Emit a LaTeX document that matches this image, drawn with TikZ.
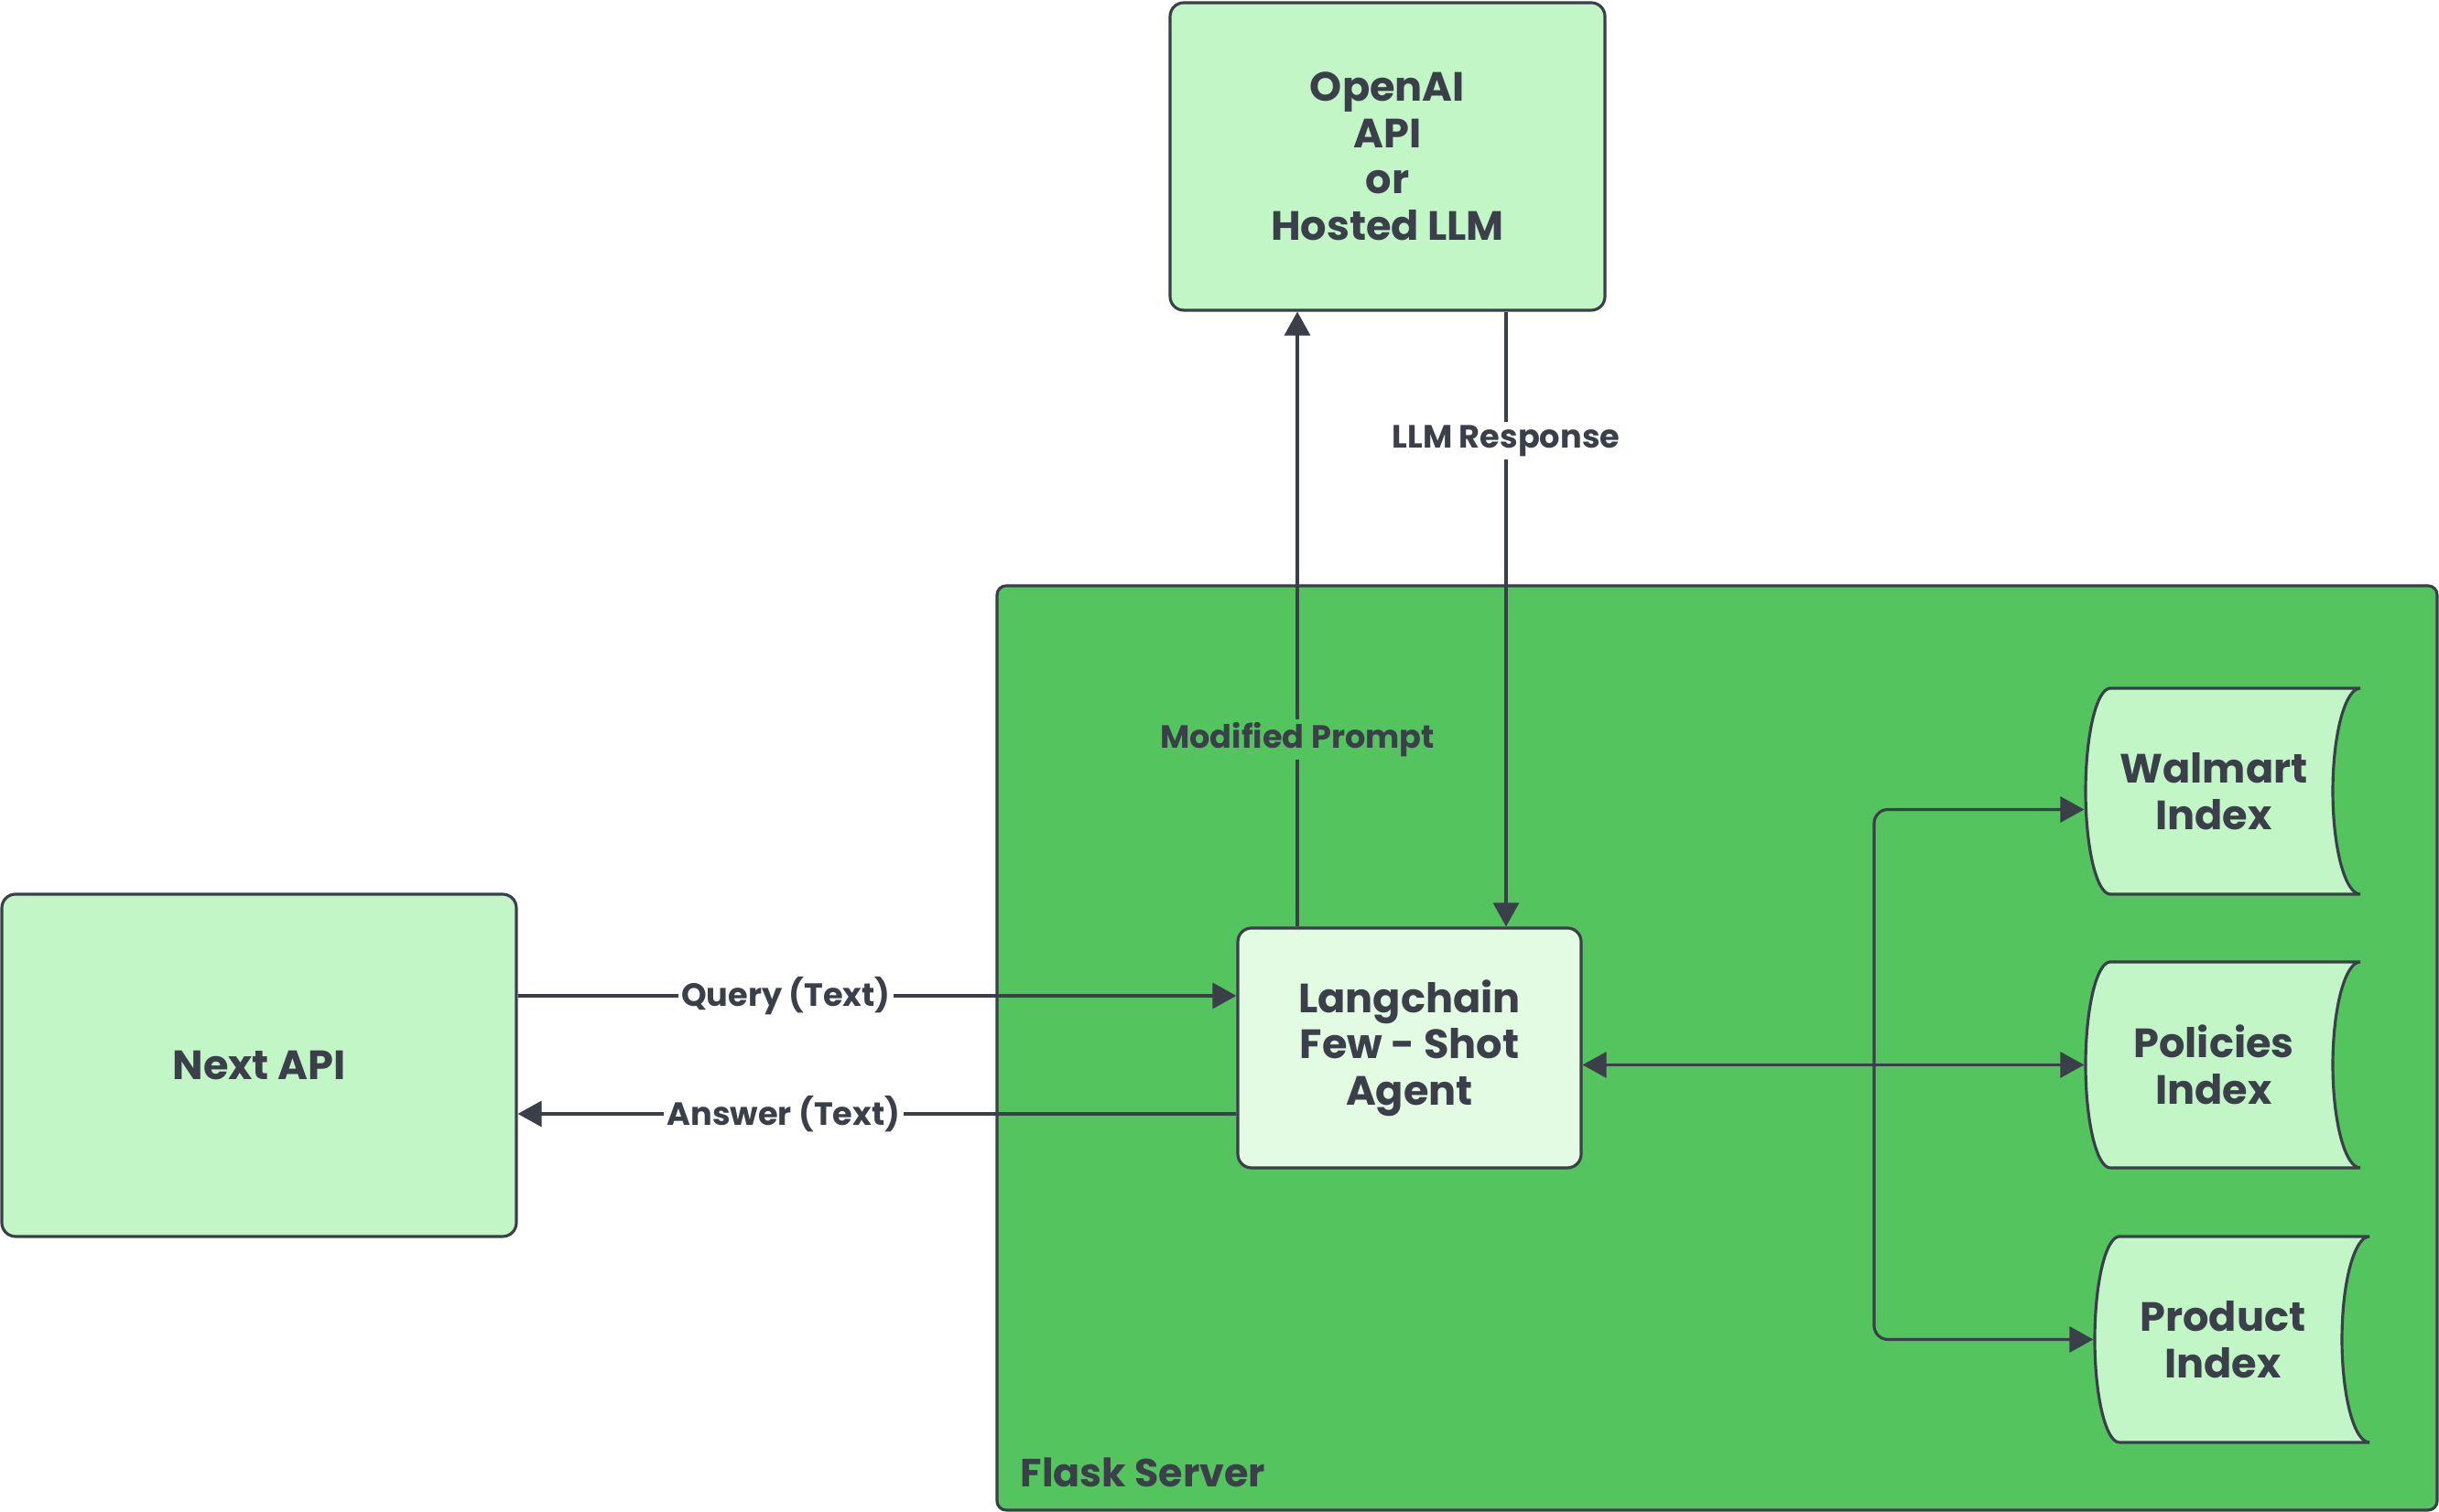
\documentclass[tikz,border=0pt]{standalone}
\usepackage{fontspec}
\setmainfont{Poppins}
\usetikzlibrary{arrows.meta}

\definecolor{linegray}{HTML}{3A3F4A}
\definecolor{softgreen}{HTML}{C2F6C7}
\definecolor{flaskgreen}{HTML}{54C45E}
\definecolor{agentgreen}{HTML}{E3FAE3}

\tikzset{
  box/.style={draw, rounded corners=1.5mm, align=center, font=\fontsize{12.7}{14.4}\selectfont\bfseries},
  dbshape/.style={draw, fill=softgreen},
  tag/.style={fill=white, inner sep=1pt, font=\fontsize{10}{12}\selectfont\bfseries},
}

\begin{document}
\begin{tikzpicture}[color=linegray, line width=0.9pt, >={Triangle[length=2.6mm, width=2.8mm]}]
\useasboundingbox (0,0) rectangle (26.64,16.52);
% server area
\node[box, fill=flaskgreen, rounded corners=1mm, minimum width=15.73cm, minimum height=10.1cm] (flask) at (18.755,5.07) {};
\node[font=\fontsize{12.2}{14.2}\selectfont\bfseries, anchor=base west, inner sep=0pt] (flasklabel) at (11.13,0.27) {Flask Server};

\node[box, fill=softgreen, minimum width=4.75cm, minimum height=3.36cm] (llm) at (15.155,14.81) {OpenAI\\API\\or\\Hosted LLM};
\node[box, fill=softgreen, minimum width=5.62cm, minimum height=3.74cm] (next) at (2.83,4.88) {Next API};
\node[box, fill=agentgreen, minimum width=3.75cm, minimum height=2.62cm] (agent) at (15.395,5.07) {Langchain\\Few - Shot\\Agent};

% index stores
\foreach \cx/\cy in {24.28/7.875, 24.28/4.885, 24.38/1.885}
  \draw[dbshape] (\cx-1.23,\cy+1.125) -- (\cx+1.5,\cy+1.125)
    arc[start angle=90, end angle=270, x radius=0.3, y radius=1.125]
    -- (\cx-1.23,\cy-1.125)
    arc[start angle=270, end angle=90, x radius=0.27, y radius=1.125] -- cycle;
\node[box, draw=none, minimum width=2.8cm, minimum height=2.25cm] (walmart) at (24.18,7.875) {Walmart\\Index};
\node[box, draw=none, minimum width=2.8cm, minimum height=2.25cm] (policies) at (24.18,4.885) {Policies\\Index};
\node[box, draw=none, minimum width=2.8cm, minimum height=2.25cm] (product) at (24.28,1.885) {Product\\Index};

\draw[->] ([xshift=-12.25mm]agent.north) -- ([xshift=-12.25mm]agent.north |- llm.south) node[tag, fill=flaskgreen, pos=0.304] {Modified Prompt};
\draw[->] ([xshift=10.55mm]agent.north |- llm.south) -- ([xshift=10.55mm]agent.north) node[tag, pos=0.21] {LLM Response};
\draw[->] ([yshift=7.6mm]next.east) -- ([yshift=7.6mm]next.east -| agent.west) node[tag, pos=0.373] {Query (Text)};
\draw[->] ([yshift=-7.2mm]agent.west) -- ([yshift=-7.2mm]agent.west -| next.east) node[tag, pos=0.63] {Answer (Text)};

\coordinate (bus) at (20.47,4.885);
\draw[<->] (agent.east |- policies.west) -- (policies.west);
\draw[->, rounded corners=1.5mm] (bus) |- ([yshift=-2mm]walmart.west);
\draw[->, rounded corners=1.5mm] (bus) |- (product.west);
\end{tikzpicture}
\end{document}
